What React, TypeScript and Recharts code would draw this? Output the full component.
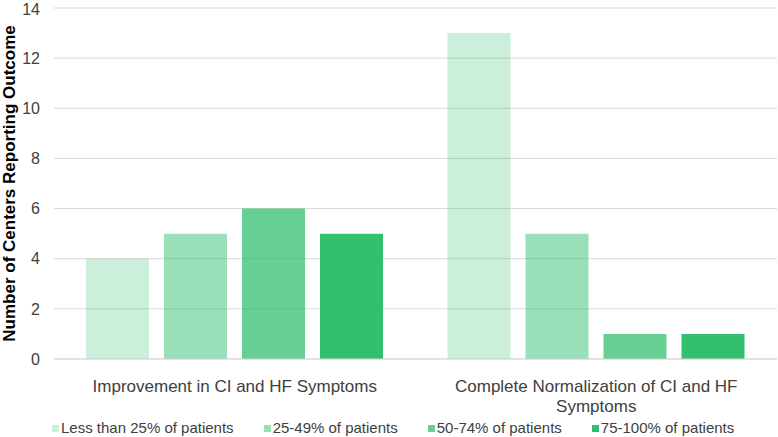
import { BarChart, Bar, XAxis, YAxis, CartesianGrid, Legend, Text } from 'recharts'

const categories = ['Improvement in CI and HF Symptoms', 'Complete Normalization of CI and HF Symptoms']
const seriesNames = ['Less than 25% of patients', '25-49% of patients', '50-74% of patients', '75-100% of patients']
const lessThan25 = [4, 13]
const from25to49 = [5, 5]
const from50to74 = [6, 1]
const from75to100 = [5, 1]
const yTicks = [0, 2, 4, 6, 8, 10, 12, 14]

const GREEN = '#33BF6F'
const OPACITY = [0.25, 0.5, 0.75, 1]
const FONT = '"Liberation Sans", Arial, sans-serif'

const data = categories.map((name, i) => ({
  name,
  s0: lessThan25[i],
  s1: from25to49[i],
  s2: from50to74[i],
  s3: from75to100[i],
}))

const CategoryTick = ({ x, y, payload }: { x?: number; y?: number; payload?: { value: string } }) => (
  <Text
    x={x}
    y={(y ?? 0) + 13}
    width={320}
    textAnchor="middle"
    verticalAnchor="start"
    fontSize={17}
    fontFamily={FONT}
    fill="#404040"
    lineHeight={20}
  >
    {payload?.value ?? ''}
  </Text>
)

const LegendContent = () => (
  <div style={{ display: 'flex', gap: 30, paddingLeft: 52, fontFamily: FONT, fontSize: 15, color: '#404040', lineHeight: '20px' }}>
    {seriesNames.map((name, i) => (
      <div key={name} style={{ display: 'flex', alignItems: 'center' }}>
        <span style={{ width: 7, height: 7, background: GREEN, opacity: OPACITY[i], marginRight: 2, display: 'inline-block' }} />
        <span>{name}</span>
      </div>
    ))}
  </div>
)

export default function App() {
  return (
    <div style={{ position: 'absolute', left: 0, top: 0, background: '#fff' }}>
      <BarChart
        width={778}
        height={437}
        data={data}
        margin={{ top: 8, right: 1, bottom: 0, left: 0 }}
        barSize={63}
        barGap={15}
      >
        <CartesianGrid vertical={false} stroke="#D9D9D9" />
        <XAxis
          dataKey="name"
          tick={<CategoryTick />}
          tickLine={false}
          axisLine={{ stroke: '#D9D9D9' }}
          height={56}
          interval={0}
        />
        <YAxis
          domain={[0, 14]}
          ticks={yTicks}
          width={54}
          tickLine={false}
          tickMargin={8}
          axisLine={false}
          tick={{ fontSize: 16, fontFamily: FONT, fill: '#404040' }}
          label={{
            value: 'Number of Centers Reporting Outcome',
            angle: -90,
            position: 'insideLeft',
            dx: 4,
            style: { textAnchor: 'middle', fontWeight: 'bold', fontSize: 17, fontFamily: FONT, fill: '#000' },
          }}
        />
        <Legend
          verticalAlign="bottom"
          align="left"
          content={<LegendContent />}
          wrapperStyle={{ position: 'absolute', left: 0, bottom: -3, height: 22 }}
        />
        {['s0', 's1', 's2', 's3'].map((key, i) => (
          <Bar key={key} dataKey={key} name={seriesNames[i]} fill={GREEN} fillOpacity={OPACITY[i]} isAnimationActive={false} />
        ))}
      </BarChart>
    </div>
  )
}
